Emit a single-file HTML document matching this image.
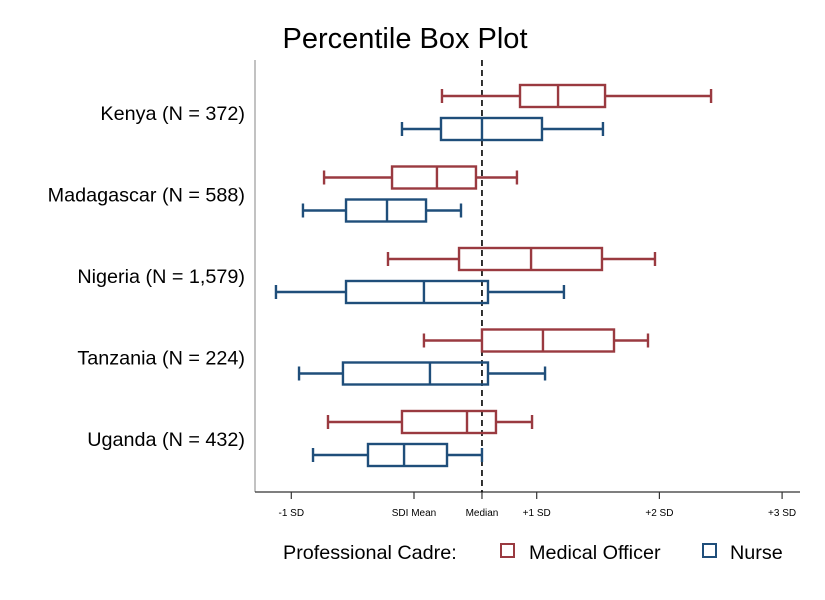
<!DOCTYPE html>
<html><head><meta charset="utf-8"><style>
body{margin:0;background:#fff;}
svg{display:block;font-family:"Liberation Sans",Arial,sans-serif;}
</style></head><body>
<svg id="chart" width="825" height="600">
<text x="405" y="48" text-anchor="middle" font-size="29">Percentile Box Plot</text>
<line x1="255" y1="60" x2="255" y2="492" stroke="#999" stroke-width="1.2"/>
<line x1="255" y1="492" x2="800" y2="492" stroke="#333" stroke-width="1.2"/>
<g id="marks"></g>
<g>
<text x="283" y="559" font-size="19.8">Professional Cadre:</text>
<rect x="501" y="544" width="13" height="13" fill="none" stroke="#9a3a40" stroke-width="2"/>
<text x="529" y="559" font-size="19.8">Medical Officer</text>
<rect x="703" y="544" width="13" height="13" fill="none" stroke="#1f4e7a" stroke-width="2"/>
<text x="730" y="559" font-size="19.8">Nurse</text>
</g>
</svg>
<script>
const countries = ["Kenya (N = 372)","Madagascar (N = 588)","Nigeria (N = 1,579)","Tanzania (N = 224)","Uganda (N = 432)"];
// [min, q1, median, q3, max] in SD units
const medicalOfficer = [
 [0.228,0.864,1.174,1.557,2.421],
 [-0.733,-0.179,0.187,0.505,0.839],
 [-0.212,0.367,0.954,1.532,1.964],
 [0.081,0.554,1.051,1.630,1.907],
 [-0.701,-0.098,0.432,0.668,0.962]];
const nurse = [
 [-0.098,0.220,0.554,1.043,1.540],
 [-0.905,-0.554,-0.220,0.098,0.383],
 [-1.125,-0.554,0.081,0.603,1.222],
 [-0.937,-0.579,0.130,0.603,1.068],
 [-0.823,-0.375,-0.081,0.269,0.554]];
const tickValues = [-1,0,0.554,1,2,3];
const tickLabels = ["-1 SD","SDI Mean","Median","+1 SD","+2 SD","+3 SD"];
const medianValue = 0.554;

const NS="http://www.w3.org/2000/svg";
const xs = v => 414 + v*122.7;
const ys = (i,k) => 96 + i*81.5 + k*33;
const g = document.getElementById('marks');
function mk(t,a){const e=document.createElementNS(NS,t);for(const k in a)e.setAttribute(k,a[k]);g.appendChild(e);return e;}

tickValues.forEach((v,i)=>{
 const l=mk('line',{x1:xs(v),x2:xs(v),y1:492,y2:499,stroke:'#333','stroke-width':1.2});
 
 
 const t=mk('text',{x:xs(v),y:516,'text-anchor':'middle','font-size':10});
 t.textContent=tickLabels[i];
 
 
});
countries.forEach((c,i)=>{
 const t=mk('text',{x:245,y:ys(i,0)+24,'text-anchor':'end','font-size':19.8});
 t.textContent=c;
 
 
});
const ml=mk('line',{x1:xs(medianValue),x2:xs(medianValue),y1:60,y2:492,stroke:'#000','stroke-width':1.6,'stroke-dasharray':'6,4'});



function box(d,y,col,name){
 const h=11,c=7;
 const parts=[
  ['line',{x1:xs(d[0]),x2:xs(d[1]),y1:y,y2:y}],
  ['line',{x1:xs(d[3]),x2:xs(d[4]),y1:y,y2:y}],
  ['line',{x1:xs(d[0]),x2:xs(d[0]),y1:y-c,y2:y+c}],
  ['line',{x1:xs(d[4]),x2:xs(d[4]),y1:y-c,y2:y+c}],
  ['rect',{x:xs(d[1]),y:y-h,width:xs(d[3])-xs(d[1]),height:2*h,fill:'none'}],
  ['line',{x1:xs(d[2]),x2:xs(d[2]),y1:y-h,y2:y+h}]];
 parts.forEach(p=>{
  const e=mk(p[0],Object.assign({stroke:col,'stroke-width':2.4},p[1]));
  
  
 });
}
countries.forEach((c,i)=>{
 box(medicalOfficer[i],ys(i,0),'#9a3a40','medical-officer-box');
 box(nurse[i],ys(i,1),'#1f4e7a','nurse-box');
});
</script>
</body></html>
